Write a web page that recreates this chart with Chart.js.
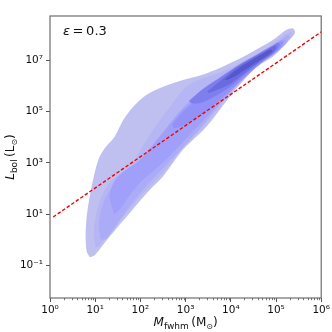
<!DOCTYPE html>
<html><head><meta charset="utf-8">
<script src="https://cdn.jsdelivr.net/npm/chart.js@4/dist/chart.umd.min.js"></script>
<style>html,body{margin:0;padding:0;background:#fff}canvas{display:block}</style>
</head><body>
<canvas id="c" width="332" height="332"></canvas>
<script>
// All values are log10(M_fwhm / Msun), log10(L_bol / Lsun)
const xTicks = [0, 1, 2, 3, 4, 5, 6];
const yTicks = [-1, 1, 3, 5, 7];
const xRange = [0, 6];
const yRange = [-2.27, 8.73];
const minorK = [2, 3, 4, 5, 6, 7, 8, 9];

// red dashed relation
const lineLogM = [0.07, 6.0];
const lineLogL = [0.89, 8.11];

// KDE filled-contour outlines, outermost (1) to innermost (8)
const level1 = [[0.88,-0.68],[0.81,-0.45],[0.79,0.0],[0.79,0.39],[0.82,1.04],[0.92,2.08],[1.07,3.12],[1.21,3.57],[1.43,4.02],[1.62,4.67],[1.84,5.19],[2.13,5.65],[2.5,5.97],[2.94,6.23],[3.46,6.49],[3.9,6.82],[4.41,7.27],[4.93,7.79],[5.22,8.18],[5.37,8.25],[5.42,8.13],[5.40,8.0],[5.22,7.66],[4.93,7.14],[4.56,6.75],[4.40,6.45],[4.04,5.73],[3.46,4.41],[2.94,3.51],[2.5,2.47],[2.21,1.95],[1.76,1.04],[1.32,0.13],[1.03,-0.52],[0.95,-0.64]];
const level2 = [[1.0,-0.3],[0.97,0.3],[1.02,1.0],[1.12,1.6],[1.3,2.2],[1.55,2.6],[1.8,2.95],[2.1,3.8],[2.4,4.6],[2.7,5.3],[3.0,5.95],[3.3,6.25],[3.8,6.55],[4.3,6.98],[4.8,7.48],[5.1,7.88],[5.3,8.12],[5.36,8.1],[5.33,7.9],[5.15,7.55],[4.88,7.15],[4.55,6.75],[4.35,6.42],[4.02,5.8],[3.46,4.55],[2.96,3.65],[2.5,2.62],[2.2,2.08],[1.75,1.18],[1.32,0.28],[1.08,-0.25]];
const level3 = [[1.12,0.0],[1.08,0.6],[1.15,1.3],[1.35,2.0],[1.65,2.45],[1.95,2.8],[2.25,3.5],[2.55,4.25],[2.85,4.95],[3.15,5.55],[3.5,6.05],[4.0,6.5],[4.5,6.98],[4.95,7.5],[5.2,7.92],[5.29,7.98],[5.3,7.9],[5.2,7.6],[4.95,7.25],[4.6,6.8],[4.3,6.35],[4.02,5.85],[3.6,4.95],[3.2,4.1],[2.8,3.35],[2.45,2.7],[2.15,2.15],[1.8,1.4],[1.5,0.65],[1.25,0.05]];
const level4 = [[1.42,1.0],[1.32,1.7],[1.45,2.35],[1.7,2.75],[1.95,3.05],[2.25,3.65],[2.55,4.3],[2.85,4.95],[3.2,5.5],[3.6,6.0],[4.0,6.42],[4.5,6.92],[4.95,7.45],[5.15,7.8],[5.21,7.78],[5.1,7.45],[4.8,7.05],[4.45,6.55],[4.2,6.15],[3.9,5.6],[3.55,4.95],[3.2,4.3],[2.85,3.65],[2.55,3.1],[2.3,2.7],[2.0,2.25],[1.75,1.7],[1.55,1.2]];
const level5 = [[2.7,4.5],[3.0,5.1],[3.4,5.65],[3.8,6.2],[4.2,6.7],[4.6,7.15],[4.95,7.55],[5.12,7.78],[5.15,7.65],[5.02,7.35],[4.7,6.95],[4.4,6.5],[4.1,6.0],[3.75,5.45],[3.4,4.95],[3.0,4.5],[2.75,4.35]];
const level6 = [[3.08,5.42],[3.4,5.9],[3.8,6.38],[4.2,6.85],[4.6,7.25],[4.9,7.55],[5.05,7.7],[5.08,7.58],[4.95,7.3],[4.65,6.92],[4.35,6.5],[4.05,6.05],[3.7,5.65],[3.35,5.35],[3.12,5.33]];
const level7 = [[3.48,5.78],[3.8,6.25],[4.1,6.68],[4.45,7.05],[4.8,7.4],[4.98,7.58],[5.01,7.48],[4.9,7.25],[4.6,6.9],[4.3,6.5],[4.0,6.1],[3.7,5.85],[3.52,5.74]];
const level8 = [[3.86,6.24],[4.1,6.6],[4.4,6.95],[4.7,7.25],[4.88,7.42],[4.92,7.36],[4.8,7.18],[4.5,6.85],[4.2,6.5],[3.95,6.25]];

const levelColors = ['rgb(192,192,240)','rgb(182,182,244)','rgb(171,171,247)','rgb(160,160,250)','rgb(145,145,248)','rgb(126,126,238)','rgb(106,106,225)','rgb(86,86,205)'];
const contours = [[level1,0],[level2,1],[level3,2],[level4,3],[level5,4],[level6,5],[level7,6],[level8,7]];

const datasets = [];
datasets.push({
  data: lineLogM.map((m,i)=>({x:m,y:lineLogL[i]})),
  borderColor: 'rgb(240,0,0)', borderWidth: 1.4, borderDash: [3.5,2],
  pointRadius: 0, fill: false, tension: 0, order: 0
});
contours.forEach(([pts,lv],i)=>{
  const d = pts.map(p=>({x:p[0],y:p[1]}));
  d.push({x:pts[0][0],y:pts[0][1]});
  datasets.push({
    data: d, fill: 'shape', backgroundColor: levelColors[lv],
    borderWidth: 0, borderColor: 'rgba(0,0,0,0)', pointRadius: 0,
    tension: 0.3, order: 100 - i
  });
});

const sup = {'-':'\u207B','0':'\u2070','1':'\u00B9','2':'\u00B2','3':'\u00B3','4':'\u2074','5':'\u2075','6':'\u2076','7':'\u2077','8':'\u2078','9':'\u2079'};
const powLabel = v => '10' + String(v).split('').map(c=>sup[c]).join('');

function drawRuns(ctx, runs, x0, yb){
  let x = x0;
  runs.forEach(r=>{
    ctx.font = r.f;
    ctx.fillText(r.t, x, yb + (r.dy||0));
    x += ctx.measureText(r.t).width;
  });
}
function runsWidth(ctx, runs){
  let w = 0;
  runs.forEach(r=>{ ctx.font = r.f; w += ctx.measureText(r.t).width; });
  return w;
}

const deco = {
  id: 'deco',
  afterDraw(chart){
    const {ctx, chartArea: a, scales: {x}} = chart;
    ctx.save();
    ctx.strokeStyle = '#6e6e6e'; ctx.lineWidth = 1.2;
    ctx.strokeRect(a.left, a.top, a.right - a.left, a.bottom - a.top);
    ctx.lineWidth = 0.8; ctx.strokeStyle = '#555';
    for (let n = xRange[0]; n < xRange[1]; n++) {
      minorK.forEach(k=>{
        const px = Math.round(x.getPixelForValue(n + Math.log10(k))) + 0.5;
        ctx.beginPath(); ctx.moveTo(px, a.bottom); ctx.lineTo(px, a.bottom + 2.2); ctx.stroke();
      });
    }
    ctx.fillStyle = '#111';
    ctx.textBaseline = 'alphabetic';
    const F = 'DejaVu Sans';
    const xr = [
      {t:'M', f:'italic 12px "'+F+'"'},
      {t:'fwhm', f:'9px "'+F+'"', dy:2.5},
      {t:'\u2009(M', f:'12px "'+F+'"'},
      {t:'\u2299', f:'8px "'+F+'"', dy:2.5},
      {t:')', f:'12px "'+F+'"'}
    ];
    const cx = (a.left + a.right)/2;
    drawRuns(ctx, xr, cx - runsWidth(ctx, xr)/2, 326);
    const yr = [
      {t:'L', f:'italic 12px "'+F+'"'},
      {t:'bol', f:'9px "'+F+'"', dy:2.5},
      {t:'\u2009(L', f:'12px "'+F+'"'},
      {t:'\u2299', f:'8px "'+F+'"', dy:2.5},
      {t:')', f:'12px "'+F+'"'}
    ];
    ctx.save();
    ctx.translate(14, (a.top + a.bottom)/2);
    ctx.rotate(-Math.PI/2);
    drawRuns(ctx, yr, -runsWidth(ctx, yr)/2, 0);
    ctx.restore();
    const er = [
      {t:'\u03B5', f:'italic 13px "'+F+'"'},
      {t:'\u2009=\u20090.3', f:'13px "'+F+'"'}
    ];
    drawRuns(ctx, er, 63, 35);
    ctx.restore();
  }
};

new Chart(document.getElementById('c'), {
  type: 'line',
  data: { datasets },
  options: {
    responsive: false, animation: false, devicePixelRatio: 1,
    layout: { padding: { top: 16, right: 10, left: 0, bottom: 0 } },
    plugins: { legend: { display: false }, tooltip: { enabled: false } },
    scales: {
      x: {
        type: 'linear', min: xRange[0], max: xRange[1],
        afterBuildTicks: s => { s.ticks = xTicks.map(v=>({value:v})); },
        afterFit: s => { s.height = 34; },
        ticks: { callback: v => powLabel(v), font: { family: 'DejaVu Sans', size: 10.5 }, color: '#111', padding: 2, maxRotation: 0, autoSkip: false },
        grid: { drawOnChartArea: false, tickLength: 4, tickColor: '#555', tickWidth: 1 },
        border: { display: false }
      },
      y: {
        type: 'linear', min: yRange[0], max: yRange[1],
        afterBuildTicks: s => { s.ticks = yTicks.map(v=>({value:v})); },
        afterFit: s => { s.width = 50; },
        ticks: { callback: v => powLabel(v), font: { family: 'DejaVu Sans', size: 10.5 }, color: '#111', padding: 3, autoSkip: false },
        grid: { drawOnChartArea: false, tickLength: 4, tickColor: '#555', tickWidth: 1 },
        border: { display: false }
      }
    }
  },
  plugins: [deco]
});
</script>
</body></html>
